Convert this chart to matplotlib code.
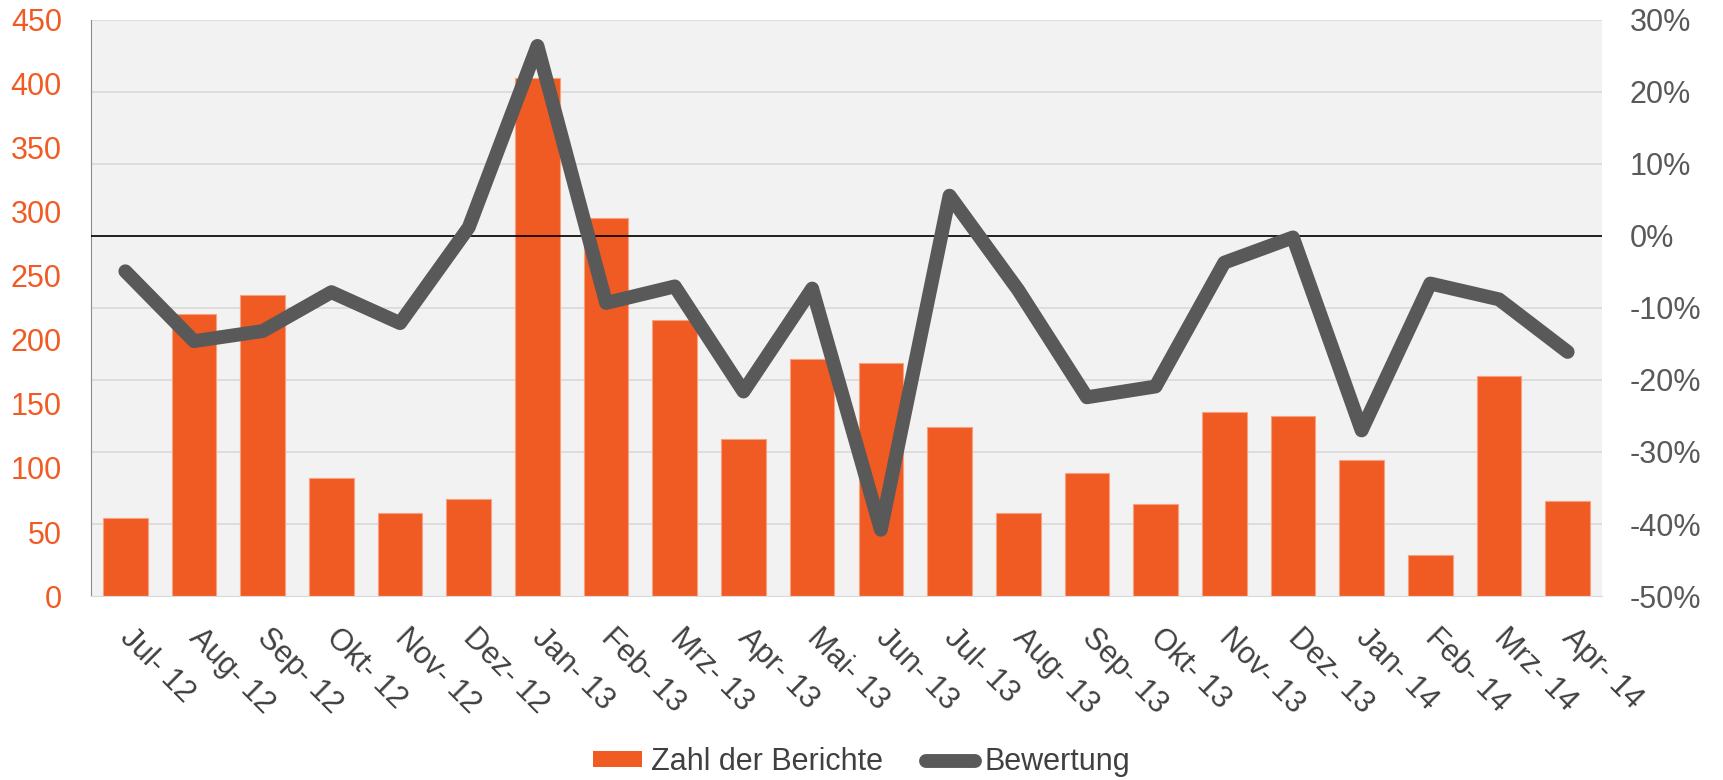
import numpy as np
import matplotlib
matplotlib.use("Agg")
import matplotlib.pyplot as plt
import matplotlib.transforms as mtransforms
from matplotlib.patches import Patch
from matplotlib.lines import Line2D

plt.rcParams['font.family'] = ['Liberation Sans', 'DejaVu Sans']

months = ["Jul- 12", "Aug- 12", "Sep- 12", "Okt- 12", "Nov- 12", "Dez- 12",
          "Jan- 13", "Feb- 13", "Mrz- 13", "Apr- 13", "Mai- 13", "Jun- 13",
          "Jul- 13", "Aug- 13", "Sep- 13", "Okt- 13", "Nov- 13", "Dez- 13",
          "Jan- 14", "Feb- 14", "Mrz- 14", "Apr- 14"]
berichte = [61, 220, 235, 92, 65, 76, 405, 295, 216, 123, 185, 182,
            132, 65, 96, 72, 144, 141, 106, 32, 172, 74]
bewertung = [-4.9, -14.6, -13.2, -7.8, -12.1, 1.2, 26.4, -9.3, -7.0, -21.6, -7.3,
             -40.8, 5.6, -7.5, -22.4, -20.9, -3.7, -0.2, -27.0, -6.6, -8.8, -16.1]
left_ticks = list(range(0, 451, 50))
right_ticks = list(range(-50, 31, 10))

orange = '#F05A23'
grey = '#595959'
fs = 22

fig = plt.figure(figsize=(17.23, 7.8), dpi=100)
ax = fig.add_axes([91/1723, 1 - 596/780, (1602 - 91)/1723, (596 - 20)/780])
ax.set_facecolor('#F2F2F2')

x = np.arange(len(months))

# gridlines follow the right axis ticks (8 steps over 0..450)
for k in range(1, len(right_ticks)):
    ax.axhline(450 * k / (len(right_ticks) - 1), color='#D9D9D9', lw=1.2, zorder=0)

ax.bar(x, berichte, width=0.65, color=orange, edgecolor='#F6A27F', linewidth=0.8, zorder=2)
ax.set_xlim(-0.5, len(months) - 0.5)
ax.set_ylim(0, 450)
ax.set_yticks(left_ticks)
ax.tick_params(axis='y', length=0, pad=21, labelsize=fs, labelcolor=orange)
ax.set_xticks(x)
ax.set_xticklabels(months, rotation=-45, ha='left', va='top', rotation_mode='anchor',
                   fontsize=fs, color='#404040')
ax.tick_params(axis='x', length=0, pad=19)
offset = mtransforms.ScaledTranslation(10/100, 0, fig.dpi_scale_trans)
for lbl in ax.get_xticklabels():
    lbl.set_transform(lbl.get_transform() + offset)

for s in ['top', 'right']:
    ax.spines[s].set_visible(False)
ax.spines['left'].set_color('#8C8C8C')
ax.spines['bottom'].set_color('#D9D9D9')

ax2 = ax.twinx()
ax2.set_ylim(-50, 30)
ax2.set_yticks(right_ticks)
ax2.set_yticklabels([f"{t}%" for t in right_ticks])
ax2.tick_params(axis='y', length=0, pad=20, labelsize=fs, labelcolor=grey)
for s in ax2.spines.values():
    s.set_visible(False)
ax2.axhline(0, color='black', lw=1.2, zorder=1)
ax2.plot(x, bewertung, color=grey, lw=10, solid_capstyle='round',
         solid_joinstyle='round', zorder=3)

handles = [Patch(facecolor=orange, edgecolor='none'),
           Line2D([], [], color=grey, lw=10, solid_capstyle='round')]
fig.legend(handles, ["Zahl der Berichte", "Bewertung"], loc='center',
           bbox_to_anchor=(0.5, 18/780), ncol=2, frameon=False, fontsize=fs,
           handlelength=1.6, handleheight=0.42, handletextpad=0.3,
           columnspacing=1.4, labelcolor='#404040')

fig.savefig('out.png', dpi=100)
